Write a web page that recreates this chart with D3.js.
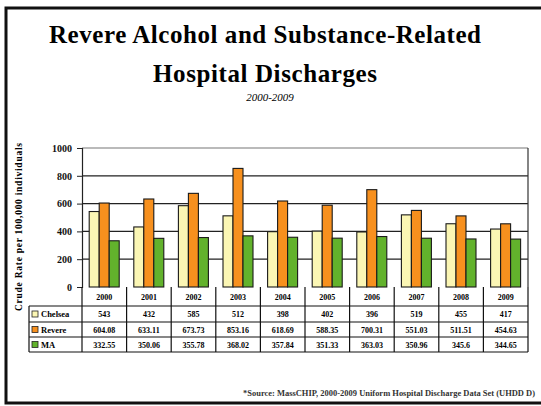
<!DOCTYPE html>
<html>
<head>
<meta charset="utf-8">
<script src="https://cdn.jsdelivr.net/npm/d3@7"></script>
<style>
  body { margin: 0; background: #fff; }
  text { font-family: "Liberation Serif", "Times New Roman", serif; }
</style>
</head>
<body>
<svg width="541" height="406"></svg>
<script>
const years = ["2000", "2001", "2002", "2003", "2004", "2005", "2006", "2007", "2008", "2009"]
const seriesNames = ["Chelsea", "Revere", "MA"]
const chelsea = [543, 432, 585, 512, 398, 402, 396, 519, 455, 417]
const revere = [604.08, 633.11, 673.73, 853.16, 618.69, 588.35, 700.31, 551.03, 511.51, 454.63]
const ma = [332.55, 350.06, 355.78, 368.02, 357.84, 351.33, 363.03, 350.96, 345.6, 344.65]
const yTicks = [0, 200, 400, 600, 800, 1000]
const colors = ["#fbf6b4", "#f7901e", "#62b22c"]

const series = [chelsea, revere, ma]

const svg = d3.select('svg')

// frame round the slide
svg.append('rect')
    .attr('x', 6).attr('y', 8)
    .attr('width', 545).attr('height', 395)
    .attr('fill', 'none')
    .attr('stroke', '#111')
    .attr('stroke-width', 3)

// titles
svg.append('text')
    .attr('x', 265).attr('y', 43)
    .attr('text-anchor', 'middle')
    .attr('font-size', 25).attr('font-weight', 'bold')
    .attr('textLength', 432).attr('lengthAdjust', 'spacing')
    .text('Revere Alcohol and Substance-Related')

svg.append('text')
    .attr('x', 265).attr('y', 82)
    .attr('text-anchor', 'middle')
    .attr('font-size', 25).attr('font-weight', 'bold')
    .attr('textLength', 224).attr('lengthAdjust', 'spacing')
    .text('Hospital Discharges')

svg.append('text')
    .attr('x', 270).attr('y', 101)
    .attr('text-anchor', 'middle')
    .attr('font-size', 11).attr('font-style', 'italic')
    .text('2000-2009')

// scales
const plotLeft = 82, plotRight = 528, plotTop = 148, zero = 287
const x0 = d3.scaleBand().domain(years).range([plotLeft, plotRight]).padding(0)
const x1 = d3.scaleBand().domain(seriesNames)
    .range([7.2, x0.bandwidth() - 7.4])
const y = d3.scaleLinear().domain([0, 1000]).range([zero, plotTop])

// gridlines
svg.append('g')
    .selectAll('line')
    .data(yTicks.slice(1))
    .enter().append('line')
    .attr('x1', plotLeft).attr('x2', plotRight)
    .attr('y1', d => y(d)).attr('y2', d => y(d))
    .attr('stroke', d => d === 1000 ? '#777' : '#222')
    .attr('stroke-width', 1.2)

// right border of the plot area
svg.append('line')
    .attr('x1', plotRight).attr('x2', plotRight)
    .attr('y1', plotTop).attr('y2', zero)
    .attr('stroke', '#333').attr('stroke-width', 1.2)

// bars
const groups = svg.append('g')
    .selectAll('g')
    .data(years)
    .enter().append('g')
    .attr('transform', d => `translate(${x0(d)},0)`)

groups.selectAll('rect')
    .data((d, i) => seriesNames.map((s, j) => ({ s: s, v: series[j][i], c: colors[j] })))
    .enter().append('rect')
    .attr('x', d => x1(d.s))
    .attr('y', d => y(d.v))
    .attr('width', x1.bandwidth())
    .attr('height', d => zero - y(d.v))
    .attr('fill', d => d.c)
    .attr('stroke', '#1a1a1a')
    .attr('stroke-width', 1.1)

// y axis
const yAxis = d3.axisLeft(y).tickValues(yTicks).tickFormat(d3.format('d'))
    .tickSize(5).tickPadding(5)
const gy = svg.append('g')
    .attr('transform', `translate(${plotLeft},0)`)
    .call(yAxis)
gy.select('.domain').attr('stroke', '#222').attr('stroke-width', 1.2)
gy.selectAll('line').attr('stroke', '#222')
gy.selectAll('text')
    .attr('font-family', '"Liberation Serif", serif')
    .attr('font-size', 10).attr('font-weight', 'bold')
    .attr('fill', '#111')

svg.append('text')
    .attr('transform', 'translate(22,227) rotate(-90)')
    .attr('text-anchor', 'middle')
    .attr('font-size', 9.5).attr('font-weight', 'bold')
    .attr('textLength', 168).attr('lengthAdjust', 'spacing')
    .text('Crude Rate per 100,000 individuals')

// data table
const tableLeft = 29
const rowTop = [306, 322, 337]
const rowH = 15
const table = svg.append('g')
const lineCol = '#111'

// header row with years
table.selectAll('.yr')
    .data(years)
    .enter().append('text')
    .attr('class', 'yr')
    .attr('x', d => x0(d) + x0.bandwidth() / 2)
    .attr('y', 300)
    .attr('text-anchor', 'middle')
    .attr('font-size', 8).attr('font-weight', 'bold')
    .text(d => d)

// horizontal lines
table.selectAll('.hl')
    .data([306, 322, 337, 352])
    .enter().append('line')
    .attr('x1', tableLeft).attr('x2', plotRight)
    .attr('y1', d => d).attr('y2', d => d)
    .attr('stroke', lineCol).attr('stroke-width', 1.2)

// vertical lines
table.selectAll('.vl')
    .data(years.map(d => x0(d)).concat([plotRight]))
    .enter().append('line')
    .attr('x1', d => d).attr('x2', d => d)
    .attr('y1', zero).attr('y2', 352)
    .attr('stroke', lineCol).attr('stroke-width', 1.2)

table.append('line')
    .attr('x1', tableLeft).attr('x2', tableLeft)
    .attr('y1', 306).attr('y2', 352)
    .attr('stroke', lineCol).attr('stroke-width', 1.2)

// legend keys and row labels
seriesNames.forEach((s, j) => {
    const cy = rowTop[j] + rowH / 2 + (j === 0 ? 0.5 : 0)
    table.append('rect')
        .attr('x', 32).attr('y', cy - 3)
        .attr('width', 6).attr('height', 6)
        .attr('fill', colors[j])
        .attr('stroke', '#222').attr('stroke-width', 0.8)
    table.append('text')
        .attr('x', 41).attr('y', cy + 3)
        .attr('font-size', 8.5).attr('font-weight', 'bold')
        .text(s)
    table.selectAll('.v' + j)
        .data(series[j])
        .enter().append('text')
        .attr('x', (d, i) => x0(years[i]) + x0.bandwidth() / 2)
        .attr('y', cy + 3)
        .attr('text-anchor', 'middle')
        .attr('font-size', 8).attr('font-weight', 'bold')
        .text(d => d)
})

// source note
svg.append('text')
    .attr('x', 243).attr('y', 396)
    .attr('font-size', 8.5).attr('font-weight', 'bold')
    .attr('fill', '#333')
    .attr('textLength', 292).attr('lengthAdjust', 'spacingAndGlyphs')
    .text('*Source: MassCHIP, 2000-2009 Uniform Hospital Discharge Data Set (UHDD D)')
</script>
</body>
</html>
